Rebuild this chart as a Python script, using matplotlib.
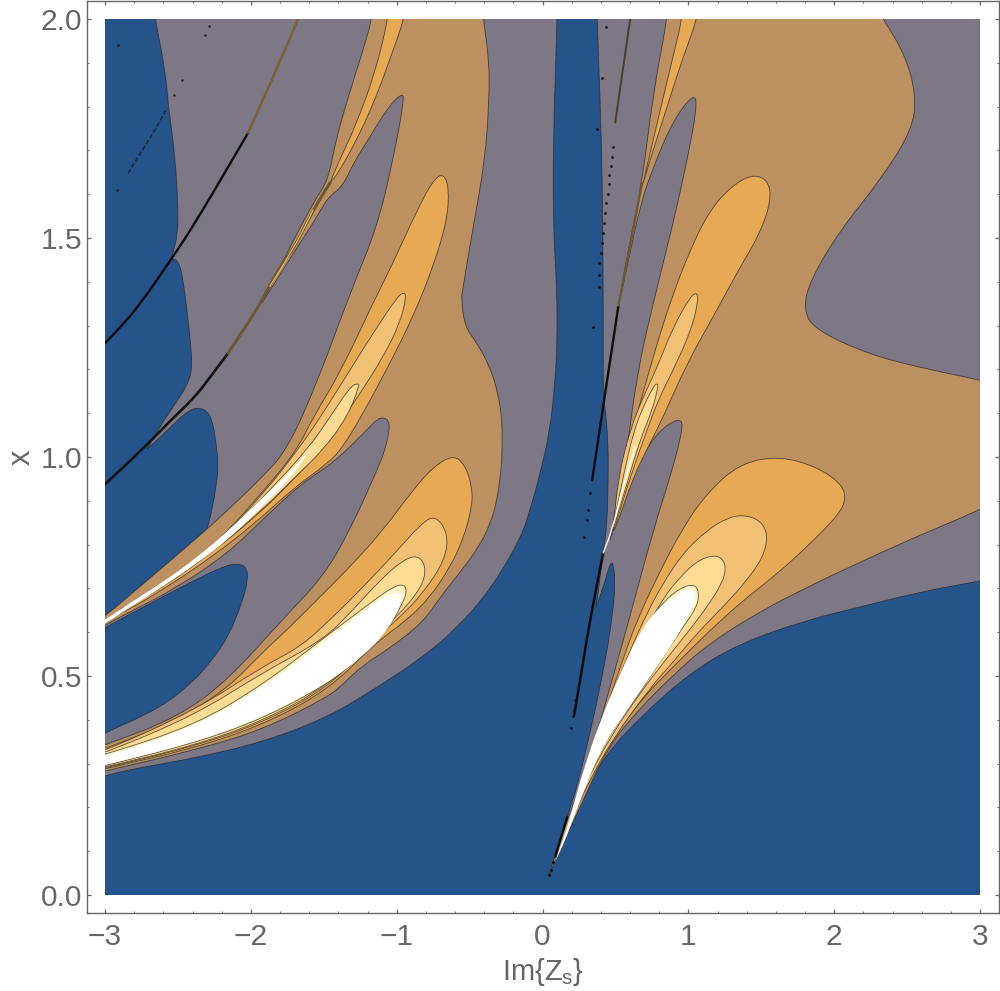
import matplotlib
matplotlib.use("Agg")
import matplotlib.pyplot as plt
from matplotlib.path import Path
from matplotlib.patches import PathPatch, Rectangle
from matplotlib.ticker import MultipleLocator

# contour regions, (Im{Zs}, x)
# a point given twice is a corner or a sharp tip of the contour
grey_left = [(-3.1, .258), (-3.1, .258), (-3, .274), (-2.69, .295), (-2.38, .313), (-1.92, .349), (-1.47, .406), (-1.13, .475),
             (-.82, .543), (-.585, .61), (-.36, .696), (-.154, .811), (-.085, .879), (-.016, .963), (.052, 1.062),
             (.087, 1.176), (.1, 1.26), (.1, 1.374), (.073, 1.534), (.073, 1.717), (.1, 2.0), (.1, 2.03), (.1, 2.03),
             (-3.1, 2.03), (-3.1, 2.03)]
grey_right = [(.045, .046), (.045, .046), (.1, .096), (.21, .201), (.443, .324), (.67, .406), (1.01, .507), (1.355, .575),
              (1.815, .628), (2.18, .658), (2.59, .692), (3.0, .717), (3.1, .724), (3.1, .724), (3.1, 2.03), (3.1, 2.03),
              (.374, 2.03), (.374, 2.03), (.374, 2.0), (.395, 1.815), (.409, 1.639), (.416, 1.411), (.416, 1.221),
              (.416, 1.13), (.429, 1.114), (.45, 1.032), (.45, .947), (.443, .849), (.416, .781), (.368, .657), (.368, .657),
              (.416, .703), (.45, .742), (.47, .758), (.484, .758), (.498, .719), (.484, .644), (.416, .507), (.326, .37),
              (.237, .247), (.169, .178)]
blue_upper_left = [(-3.1, 2.03), (-3.1, 2.03), (-2.657, 2.03), (-2.657, 2.03), (-2.657, 2.0), (-2.609, 1.922), (-2.575, 1.845),
                   (-2.568, 1.808), (-2.561, 1.792), (-2.52, 1.685), (-2.5, 1.58), (-2.5, 1.511), (-2.534, 1.466),
                   (-2.547, 1.452), (-2.547, 1.452), (-2.5, 1.45), (-2.465, 1.411), (-2.417, 1.274), (-2.403, 1.215),
                   (-2.417, 1.176), (-2.5, 1.13), (-2.609, 1.078), (-2.712, 1.018), (-2.712, 1.018), (-2.568, 1.062),
                   (-2.431, 1.107), (-2.335, 1.114), (-2.266, 1.091), (-2.232, 1.016), (-2.225, .986), (-2.232, .941),
                   (-2.294, .833), (-2.383, .781), (-2.609, .719), (-2.842, .674), (-3, .639), (-3.1, .623), (-3.1, .623)]
blue_tongue = [(-3.07, .598), (-3, .61), (-2.842, .639), (-2.609, .68), (-2.383, .719), (-2.198, .749), (-2.089, .758),
               (-2.027, .747), (-2.02, .719), (-2.06, .667), (-2.156, .589), (-2.266, .537), (-2.383, .491),
               (-2.609, .429), (-3, .37), (-3.07, .358)]

tan_left = [(-1.169, 2.03), (-1.169, 2.0), (-1.237, 1.922), (-1.333, 1.822), (-1.422, 1.717), (-1.47, 1.632), (-1.56, 1.587),
            (-1.697, 1.502), (-1.923, 1.352), (-1.923, 1.352), (-1.663, 1.489), (-1.56, 1.541), (-1.47, 1.594), (-1.374, 1.616),
            (-1.285, 1.678), (-1.196, 1.724), (-1.059, 1.799), (-.963, 1.831), (-.949, 1.815), (-1.025, 1.678),
            (-1.134, 1.525), (-1.32, 1.374), (-1.546, 1.169), (-1.752, 1.016), (-1.923, .954), (-2.156, .879),
            (-2.383, .811), (-2.691, .724), (-3, .636), (-3.07, .623), (-3.07, .6), (-3, .616), (-2.842, .644),
            (-2.5, .703), (-2.156, .781), (-1.923, .856), (-1.649, .941), (-1.436, .986), (-1.203, 1.062),
            (-1.128, 1.089), (-1.066, 1.089), (-1.045, 1.068), (-1.08, 1.016), (-1.134, .97), (-1.32, .833),
            (-1.505, .726), (-1.786, .628), (-2.156, .491), (-2.5, .406), (-3, .342), (-3.1, .333), (-3.1, .276),
            (-3, .283), (-2.383, .331), (-1.923, .377), (-1.47, .452), (-1.354, .486), (-1.23, .525), (-1.045, .564),
            (-.819, .623), (-.702, .68), (-.565, .737), (-.442, .792), (-.36, .845), (-.311, .902), (-.284, .97),
            (-.277, 1.016), (-.277, 1.084), (-.305, 1.146), (-.36, 1.205), (-.449, 1.26), (-.531, 1.297), (-.558, 1.358),
            (-.545, 1.388), (-.476, 1.525), (-.394, 1.678), (-.366, 1.815), (-.366, 1.906), (-.407, 2.0), (-.407, 2.03)]
tan_right = [(.855, 2.032), (.855, 2.0), (.759, 1.831), (.683, 1.626), (.58, 1.461), (.519, 1.342), (.519, 1.342), (.587, 1.445),
             (.669, 1.575), (.759, 1.662), (.896, 1.769), (1.04, 1.831),
             (1.06, 1.799), (.992, 1.678), (.896, 1.534), (.759, 1.352), (.649, 1.192), (.58, 1.016), (.484, .849),
             (.464, .811), (.464, .811), (.553, .909), (.621, .963), (.717, 1.023), (.827, 1.068), (.944, 1.089), (.964, 1.068),
             (.896, .977), (.759, .833), (.58, .612), (.477, .491), (.374, .37), (.292, .274), (.203, .201),
             (.107, .114), (.045, .046), (.045, .046), (.134, .114), (.258, .201), (.443, .336), (.669, .427), (.896, .502),
             (1.129, .571), (1.472, .644), (1.815, .703), (2.178, .76), (2.59, .822), (3.0, .879), (3.1, .9),
             (3.1, 1.165), (3.0, 1.176), (2.658, 1.199), (2.247, 1.233), (1.87, 1.29), (1.787, 1.336), (1.835, 1.404),
             (2.041, 1.518), (2.316, 1.632), (2.535, 1.747), (2.562, 1.826), (2.487, 1.918), (2.336, 2.0), (2.28, 2.032)]

orange_band_left = [(-1.059, 2.03), (-1.059, 2.0), (-1.148, 1.877), (-1.285, 1.753), (-1.402, 1.671), (-1.457, 1.626), (-1.457, 1.626),
                    (-1.402, 1.648), (-1.285, 1.717), (-1.148, 1.815), (-1.032, 1.922), (-.949, 2.0), (-.949, 2.03)]
orange_band_right = [(.957, 2.03), (.957, 2.0), (.889, 1.906), (.807, 1.792), (.738, 1.694), (.69, 1.626), (.69, 1.626), (.759, 1.701),
                     (.875, 1.822), (.964, 1.913), (1.06, 2.0), (1.06, 2.03)]

orange_mid_left = [(-2.931, .639), (-2.931, .639), (-2.609, .708), (-2.266, .792), (-1.923, .918), (-1.683, 1.016), (-1.573, 1.091),
                   (-1.388, 1.192), (-1.162, 1.352), (-1.025, 1.443), (-.86, 1.564), (-.75, 1.632), (-.682, 1.648),
                   (-.641, 1.616), (-.654, 1.541), (-.75, 1.434), (-.888, 1.32), (-1.045, 1.215), (-1.23, 1.1),
                   (-1.368, 1.023), (-1.47, .986), (-1.697, .932), (-1.971, .849), (-2.266, .772), (-2.609, .696),
                   (-2.842, .651)]
light_mid_left = [(-2.897, .648), (-2.897, .648), (-2.588, .712), (-2.246, .797), (-1.903, .92), (-1.663, 1.023), (-1.505, 1.1),
                  (-1.32, 1.199), (-1.134, 1.297), (-.997, 1.365), (-.949, 1.377), (-.935, 1.365), (-.977, 1.306),
                  (-1.093, 1.228), (-1.25, 1.146), (-1.477, 1.032), (-1.697, .952), (-1.951, .868), (-2.246, .788),
                  (-2.588, .705)]
pale_mid_left = [(-2.897, .651), (-2.897, .651), (-2.554, .719), (-2.211, .806), (-1.868, .925), (-1.615, 1.016), (-1.457, 1.091),
                 (-1.32, 1.16), (-1.265, 1.169), (-1.258, 1.16), (-1.34, 1.091), (-1.505, 1.016), (-1.676, .961),
                 (-1.923, .879), (-2.211, .797), (-2.554, .715)]
white_mid_left = [(-3.07, .616), (-3, .628), (-2.842, .664), (-2.609, .713), (-2.383, .767), (-2.156, .831), (-1.923, .906),
                  (-1.731, .965), (-1.58, 1.023), (-1.58, 1.023), (-1.731, .95), (-1.923, .887), (-2.156, .811), (-2.383, .754),
                  (-2.609, .703), (-2.842, .654), (-3, .62), (-3.07, .605)]

orange_low_left = [(-3.08, .331), (-3, .333), (-2.5, .4), (-2.156, .473), (-1.923, .553), (-1.731, .612), (-1.546, .674),
                   (-1.32, .749), (-1.093, .833), (-.888, .925), (-.75, .977), (-.613, 1.005), (-.531, .982),
                   (-.483, .932), (-.483, .886), (-.545, .811), (-.634, .749), (-.771, .68), (-.929, .628),
                   (-1.162, .571), (-1.47, .468), (-1.923, .388), (-2.383, .336), (-3, .288), (-3.08, .283)]
light_low_left = [(-3.08, .327), (-3, .329), (-2.383, .422), (-1.923, .521), (-1.663, .566), (-1.457, .628), (-1.23, .703),
                  (-.997, .786), (-.84, .845), (-.737, .868), (-.647, .826), (-.668, .765), (-.819, .689), (-.997, .628),
                  (-1.162, .582), (-1.47, .473), (-1.923, .393), (-2.383, .34), (-3, .29), (-3.08, .285)]
pale_low_left = [(-3.08, .322), (-3, .324), (-2.383, .411), (-1.923, .507), (-1.505, .582), (-1.299, .651), (-1.114, .719),
                 (-.956, .765), (-.853, .776), (-.798, .749), (-.826, .703), (-.997, .635), (-1.162, .589), (-1.47, .477),
                 (-1.923, .397), (-2.383, .342), (-3, .292), (-3.08, .287)]
cream_low_left = [(-3.08, .318), (-3, .32), (-2.383, .388), (-1.923, .479), (-1.47, .594), (-1.128, .68), (-1.025, .703),
                  (-.956, .71), (-.929, .696), (-.956, .667), (-1.066, .605), (-1.272, .537), (-1.47, .482), (-1.923, .402),
                  (-2.383, .347), (-3, .295), (-3.08, .29)]
white_low_left = [(-3.08, .313), (-3, .315), (-2.383, .384), (-1.923, .473), (-1.47, .583), (-1.128, .674), (-.99, .696),
                  (-.956, .674), (-1.059, .605), (-1.237, .543), (-1.47, .486), (-1.923, .406), (-2.383, .349), (-3, .297),
                  (-3.08, .292)]

orange_mid_right = [(.477, .833), (.477, .833), (.532, .954), (.669, 1.123), (.786, 1.26), (.896, 1.374), (1.033, 1.489), (1.15, 1.564),
                    (1.287, 1.616), (1.438, 1.646), (1.547, 1.632), (1.568, 1.587), (1.492, 1.511), (1.355, 1.434),
                    (1.17, 1.32), (.992, 1.215), (.827, 1.091), (.738, 1.032), (.621, .954), (.498, .833)]
light_mid_right = [(.484, .833), (.484, .833), (.519, .954), (.601, 1.062), (.69, 1.137), (.786, 1.205), (.896, 1.297), (1.012, 1.365),
                   (1.06, 1.377), (1.067, 1.352), (1.012, 1.283), (.896, 1.199), (.793, 1.13), (.717, 1.062), (.601, .954),
                   (.491, .833)]
pale_mid_right = [(.477, .833), (.477, .833), (.553, .954), (.621, 1.055), (.69, 1.114), (.759, 1.16), (.786, 1.169), (.793, 1.16),
                  (.752, 1.107), (.669, 1.039), (.58, .941), (.484, .833)]

orange_low_right = [(.21, .183), (.21, .183), (.374, .361), (.532, .521), (.649, .628), (.786, .726), (.964, .84), (1.129, .918),
                    (1.355, .986), (1.63, 1.002), (1.883, .977), (2.041, .941), (2.082, .909), (2.041, .872), (1.815, .795),
                    (1.582, .726), (1.355, .667), (1.129, .598), (.944, .537), (.759, .475), (.669, .441), (.443, .347),
                    (.278, .247)]
light_low_right = [(.237, .201), (.237, .201), (.381, .384), (.601, .559), (.717, .644), (.827, .712), (.964, .781), (1.129, .833),
                   (1.266, .861), (1.376, .868), (1.492, .856), (1.547, .822), (1.513, .772), (1.403, .719), (1.239, .658),
                   (1.06, .598), (.896, .532), (.738, .473), (.484, .358), (.306, .251)]
pale_low_right = [(.237, .201), (.237, .201), (.409, .393), (.621, .553), (.717, .61), (.827, .678), (.944, .726), (1.06, .763),
                  (1.17, .776), (1.232, .769), (1.259, .747), (1.232, .712), (1.129, .658), (.992, .598), (.827, .53),
                  (.669, .461), (.464, .361), (.278, .244)]
cream_low_right = [(.21, .194), (.21, .194), (.395, .393), (.553, .521), (.717, .621), (.827, .669), (.944, .701), (1.04, .71),
                   (1.074, .692), (1.06, .658), (.964, .612), (.827, .543), (.669, .463), (.443, .358), (.258, .233)]
white_low_right = [(.085, .075), (.085, .075), (.145, .132), (.19, .178), (.278, .285), (.416, .416), (.553, .521), (.649, .589), (.759, .644),
                   (.896, .68), (.964, .696), (1.033, .699), (1.053, .68), (1.012, .644), (.896, .575), (.759, .509),
                   (.58, .422), (.395, .331), (.222, .185), (.16, .128)]

# the streaks are thin enough to be lines
streak_a = [(-3, 1.26), (-2.863, 1.306), (-2.726, 1.365), (-2.54, 1.454), (-2.383, 1.534), (-2.156, 1.662), (-2.019, 1.74)]
streak_a_top = [(-2.019, 1.74), (-1.855, 1.861), (-1.676, 2.0)]
streak_b = [(-3, .938), (-2.746, 1.016), (-2.568, 1.078), (-2.383, 1.137), (-2.294, 1.176), (-2.156, 1.237)]
streak_b_top = [(-2.156, 1.237), (-1.992, 1.32), (-1.923, 1.358), (-1.786, 1.443), (-1.71, 1.473), (-1.573, 1.564), (-1.457, 1.626)]
streak_b_core = [(-1.87, 1.39), (-1.71, 1.473), (-1.573, 1.564)]
streak_r1 = [(.601, 2.0), (.498, 1.763)]
streak_r2_top = [(.683, 1.626), (.519, 1.342)]
streak_r2 = [(.519, 1.342), (.443, 1.176), (.34, .947)]
streak_r3_white = [(.635, 1.023), (.553, .936), (.477, .833), (.416, .781)]
streak_r3 = [(.416, .781), (.34, .657), (.258, .491), (.217, .411)]
streak_r4 = [(.169, .178), (.087, .087)]

dots_x = [.484, .477, .47, .457, .457, .45, .436, .429, .422, .416, .409, .402, .388, .388, .388, .436, .409, .374, .347,
          .326, .313, .306, .286, .224, .217, .21, .196, .073, .059, .045]
dots_y = [1.708, 1.685, 1.664, 1.644, 1.623, 1.6, 1.58, 1.557, 1.534, 1.511, 1.489, 1.466, 1.443, 1.416, 1.388, 1.982,
          1.865, 1.749, 1.297, .918, .879, .856, .817, .445, .422, .409, .381, .075, .057, .046]
dash_x = [-2.842, -2.774, -2.657, -2.575]
dash_y = [1.648, 1.685, 1.747, 1.797]
stray_x = [-2.918, -2.911, -2.314, -2.287, -2.472, -2.527]
stray_y = [1.61, 1.941, 1.963, 1.984, 1.861, 1.826]

x_ticks = [-3, -2, -1, 0, 1, 2, 3]
y_ticks = [0.0, 0.5, 1.0, 1.5, 2.0]

BLUE = "#24548a"
GREY = "#7e7785"
TAN = "#bc9060"
ORANGE = "#e8a954"
LIGHT = "#f3c175"
PALE = "#fedb92"
CREAM = "#fff4c4"
EDGE = (0.15, 0.15, 0.15, 0.75)

plt.rcParams['font.family'] = ['Liberation Sans', 'DejaVu Sans']
plt.rcParams['mathtext.fontset'] = 'custom'
plt.rcParams['mathtext.rm'] = 'Liberation Sans'
plt.rcParams['mathtext.it'] = 'Liberation Sans'

fig = plt.figure(figsize=(10, 9.91), dpi=100)
ax = fig.add_axes([0.0865, (991 - 913) / 991, 0.9125, (913 - 1.5) / 991])
ax.set_xlim(-3.127, 3.13)
ax.set_ylim(-0.0411, 2.04)

clip = Rectangle((-3, 0), 6, 2, transform=ax.transData)


def curve_path(points, closed):
    # quadratic pieces through the midpoints, keeps the contours smooth
    mid = lambda a, b: ((a[0] + b[0]) / 2, (a[1] + b[1]) / 2)
    if closed:
        verts = [mid(points[-1], points[0])]
        codes = [Path.MOVETO]
        for i in range(len(points)):
            verts += [points[i], mid(points[i], points[(i + 1) % len(points)])]
            codes += [Path.CURVE3, Path.CURVE3]
    else:
        verts = [points[0]]
        codes = [Path.MOVETO]
        for i in range(1, len(points) - 1):
            verts += [points[i], mid(points[i], points[i + 1])]
            codes += [Path.CURVE3, Path.CURVE3]
        verts.append(points[-1])
        codes.append(Path.LINETO)
    return Path(verts, codes)


def add_region(points, color, edge=EDGE):
    patch = PathPatch(curve_path(points, True), facecolor=color, edgecolor=edge, linewidth=0.6)
    ax.add_patch(patch)
    patch.set_clip_path(clip)


def add_streak(points, color, width):
    patch = PathPatch(curve_path(points, False), fill=False, edgecolor=color, linewidth=width, capstyle='round')
    ax.add_patch(patch)
    patch.set_clip_path(clip)


ax.add_patch(Rectangle((-3, 0), 6, 2, facecolor=BLUE, edgecolor='none'))

add_region(grey_left, GREY)
add_region(grey_right, GREY)
add_region(blue_upper_left, BLUE)
add_region(blue_tongue, BLUE)
add_region(tan_left, TAN)
add_region(tan_right, TAN)
add_region(orange_band_left, ORANGE)
add_region(orange_band_right, ORANGE)

for orange, light, pale in [(orange_mid_left, light_mid_left, pale_mid_left),
                            (orange_mid_right, light_mid_right, pale_mid_right)]:
    add_region(orange, ORANGE)
    add_region(light, LIGHT)
    add_region(pale, PALE)
add_region(white_mid_left, 'white', 'none')

for orange, light, pale, cream, white in [
        (orange_low_left, light_low_left, pale_low_left, cream_low_left, white_low_left),
        (orange_low_right, light_low_right, pale_low_right, cream_low_right, white_low_right)]:
    add_region(orange, ORANGE)
    add_region(light, LIGHT)
    add_region(pale, PALE)
    add_region(cream, CREAM)
    add_region(white, 'white', 'none')

add_streak(streak_a, '#0c0c0c', 1.7)
add_streak(streak_a_top, '#7a6238', 1.8)
add_streak(streak_b, '#141414', 1.9)
add_streak(streak_b_top, '#6e5732', 2.2)
add_streak(streak_b_core, '#e5c071', 0.8)
add_streak(streak_r1, '#4b3e2a', 1.4)
add_streak(streak_r2_top, '#6e5732', 1.6)
add_streak(streak_r2, '#0c0c0c', 1.7)
add_streak(streak_r3, '#0c0c0c', 1.8)
add_streak(streak_r3_white, 'white', 1.0)
add_streak(streak_r4, '#0c0c0c', 1.7)

ax.scatter(dots_x, dots_y, s=4, color='#111111', linewidths=0, zorder=3)
ax.scatter(stray_x, stray_y, s=3, color='#222222', linewidths=0, zorder=3)
ax.plot(dash_x, dash_y, color='#1c2a3c', lw=1.1, ls=(0, (3, 1.5)))

ax.set_xticks(x_ticks)
ax.set_yticks(y_ticks)
ax.set_xticklabels(['\u2212%d' % -v if v < 0 else '%d' % v for v in x_ticks])
ax.set_yticklabels(['%.1f' % v for v in y_ticks])
ax.xaxis.set_minor_locator(MultipleLocator(0.2))
ax.yaxis.set_minor_locator(MultipleLocator(0.1))
ax.tick_params(which='major', direction='in', length=3.2, width=0.9, color='#666666', labelcolor='#666666',
               labelsize=21.5, top=True, right=True)
ax.tick_params(which='minor', direction='in', length=1.7, width=0.7, color='#666666', top=True, right=True)
ax.tick_params(axis='x', which='major', pad=7)
ax.tick_params(axis='y', which='major', pad=3)
for spine in ax.spines.values():
    spine.set_color('#666666')
    spine.set_linewidth(1.0)

ax.set_xlabel(r'Im{$Z_s$}', fontsize=21, color='#666666', labelpad=4)
ax.set_ylabel('x', fontsize=22, color='#666666', labelpad=3)

fig.savefig('out.png', dpi=100)
